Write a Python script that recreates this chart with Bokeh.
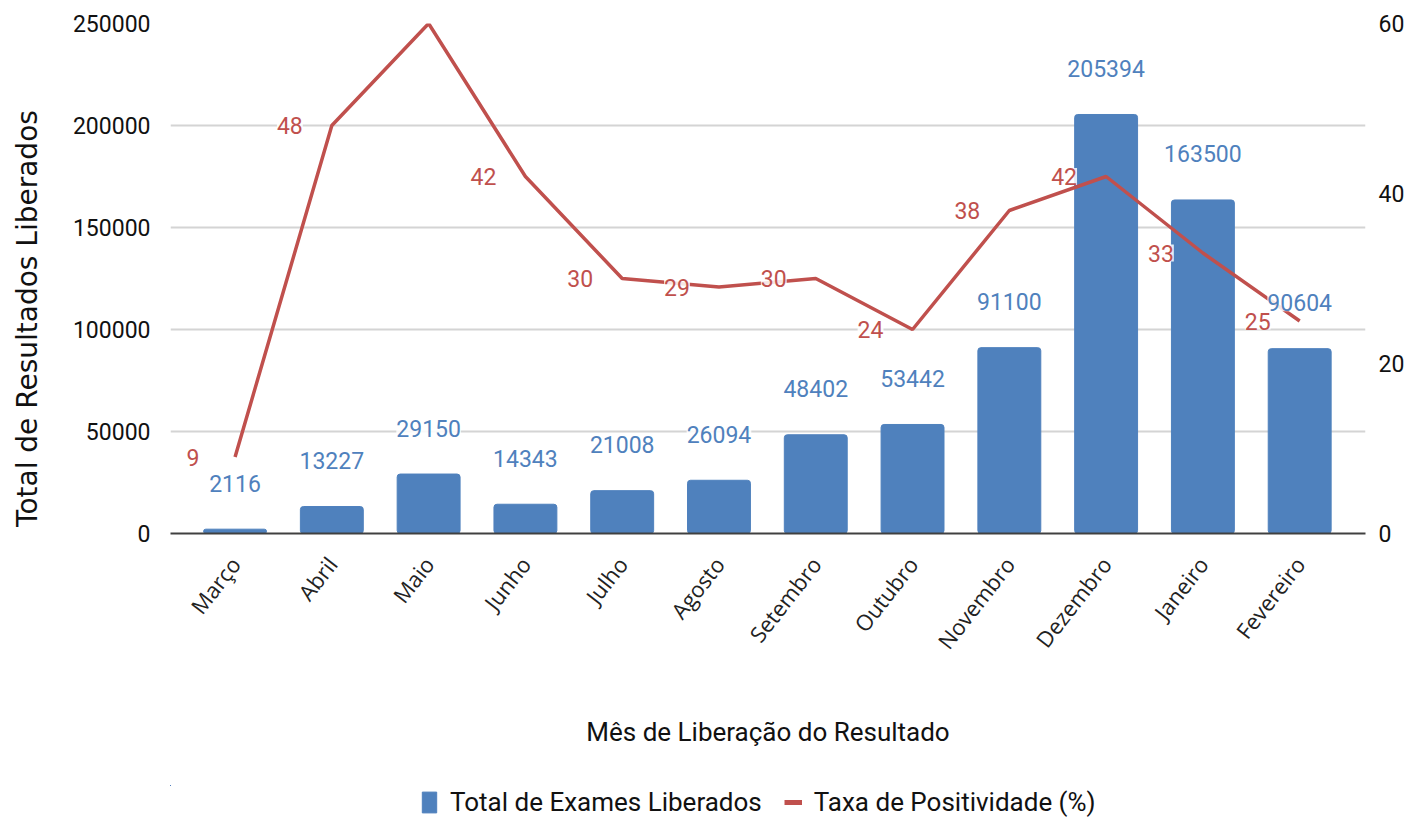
from bokeh.plotting import figure
from bokeh.layouts import column
from bokeh.models import (Range1d, LinearAxis, FixedTicker, ColumnDataSource,
                          LabelSet, Legend, LegendItem, BasicTickFormatter)
from bokeh.core.properties import value
from bokeh.embed import file_html
from bokeh.resources import INLINE
import math

months = ["Março", "Abril", "Maio", "Junho", "Julho", "Agosto", "Setembro",
          "Outubro", "Novembro", "Dezembro", "Janeiro", "Fevereiro"]
total_exames = [2116, 13227, 29150, 14343, 21008, 26094, 48402, 53442,
                91100, 205394, 163500, 90604]
taxa_positividade = [9, 48, 60, 42, 30, 29, 30, 24, 38, 42, 33, 25]
taxa_labels = ["9", "48", "", "42", "30", "29", "30", "24", "38", "42", "33", "25"]
left_ticks = [0, 50000, 100000, 150000, 200000, 250000]
right_ticks = [0, 20, 40, 60]

BLUE = "#4f81bd"
RED = "#c0504d"
FONT = "Roboto"

x = list(range(len(months)))
src = ColumnDataSource(dict(
    x=x, total=total_exames, total_txt=[str(v) for v in total_exames],
    taxa=taxa_positividade, taxa_txt=taxa_labels))

p = figure(width=1411, height=785, output_backend="svg", toolbar_location=None,
           x_range=Range1d(-0.667, 11.68), y_range=Range1d(0, 250000),
           min_border_left=170, min_border_right=46, min_border_top=23,
           min_border_bottom=252)
p.outline_line_color = None
p.extra_y_ranges = {"taxa": Range1d(0, 60)}

bars = p.vbar(x="x", top="total", width=0.65, source=src, color=BLUE,
              border_radius=3)
line = p.line(x="x", y="taxa", source=src, y_range_name="taxa",
              line_color=RED, line_width=3.5)

# axes
p.yaxis.ticker = FixedTicker(ticks=left_ticks)
p.yaxis.formatter = BasicTickFormatter(use_scientific=False)
p.yaxis.axis_line_color = None
p.yaxis.major_tick_line_color = None
p.yaxis.minor_tick_line_color = None
p.yaxis.major_label_text_font = FONT
p.yaxis.major_label_text_font_size = "23px"
p.yaxis.major_label_text_color = "#111111"
p.yaxis.major_label_standoff = 14
p.yaxis.axis_label = "Total de Resultados Liberados" + "\u00a0" * 9
p.yaxis.axis_label_text_font = "DejaVu Sans"
p.yaxis.axis_label_text_font_size = "28px"
p.yaxis.axis_label_text_font_style = "normal"
p.yaxis.axis_label_text_color = "#111111"
p.yaxis.axis_label_standoff = 26

r_axis = LinearAxis(y_range_name="taxa", ticker=FixedTicker(ticks=right_ticks))
r_axis.axis_line_color = None
r_axis.major_tick_line_color = None
r_axis.minor_tick_line_color = None
r_axis.major_label_text_font = FONT
r_axis.major_label_text_font_size = "23px"
r_axis.major_label_text_color = "#111111"
r_axis.major_label_standoff = 7
p.add_layout(r_axis, "right")

p.xaxis.ticker = FixedTicker(ticks=x)
p.xaxis.major_label_overrides = {i: m for i, m in enumerate(months)}
p.xaxis.major_label_orientation = math.radians(52)
p.xaxis.major_label_text_font = "Open Sans"
p.xaxis.major_label_text_font_style = "normal"
p.xaxis.major_label_text_font_size = "22px"
p.xaxis.major_label_text_color = "#222222"
p.xaxis.major_label_standoff = 20
p.xaxis.major_tick_line_color = None
p.xaxis.minor_tick_line_color = None
p.xaxis.axis_line_color = "#404040"
p.xaxis.axis_line_width = 2
p.xaxis.axis_label = "Mês de Liberação do Resultado"
p.xaxis.axis_label_text_font = FONT
p.xaxis.axis_label_text_font_size = "26px"
p.xaxis.axis_label_text_font_style = "normal"
p.xaxis.axis_label_text_color = "#111111"
p.xaxis.axis_label_standoff = 50

p.xgrid.grid_line_color = None
p.ygrid.grid_line_color = "#d4d4d4"
p.ygrid.grid_line_width = 2

# data labels
taxa_lbl = LabelSet(x="x", y="taxa", text="taxa_txt", source=src,
                    y_range_name="taxa", x_offset=-42, y_offset=0,
                    text_align="center", text_baseline="middle",
                    text_font=value(FONT), text_font_size="23px", text_color=RED,
                    background_fill_color="white", background_fill_alpha=0.85)
p.add_layout(taxa_lbl)

total_lbl = LabelSet(x="x", y="total", text="total_txt", source=src,
                     y_offset=46, text_align="center", text_baseline="middle",
                     text_font=value(FONT), text_font_size="23px", text_color=BLUE,
                     background_fill_color="white", background_fill_alpha=0.85)
p.add_layout(total_lbl)

# legend strip below the chart: same series, drawn far outside this strip's
# visible ranges so only their legend swatches show
lg = figure(width=1411, height=34, output_backend="svg", toolbar_location=None,
            x_axis_type=None, y_axis_type=None, min_border=0,
            x_range=Range1d(100, 101), y_range=Range1d(-2, -1))
lg.outline_line_color = None
lg.xgrid.grid_line_color = None
lg.ygrid.grid_line_color = None
bar_proxy = lg.vbar(x="x", top="total", bottom=0, width=0.65, source=src,
                    color=BLUE)
line_proxy = lg.line(x="x", y="taxa", source=src, line_color=RED, line_width=5)
legend = Legend(items=[LegendItem(label="Total de Exames Liberados", renderers=[bar_proxy]),
                       LegendItem(label="Taxa de Positividade (%)", renderers=[line_proxy])],
                orientation="horizontal", location=(250, 2),
                label_text_font=FONT, label_text_font_size="26px",
                label_text_color="#111111", border_line_color=None,
                background_fill_alpha=0, glyph_width=18, glyph_height=26,
                label_standoff=12, spacing=22, margin=0, padding=0)
lg.add_layout(legend)

open("out.html", "w").write(file_html(column(p, lg, spacing=0), INLINE))
